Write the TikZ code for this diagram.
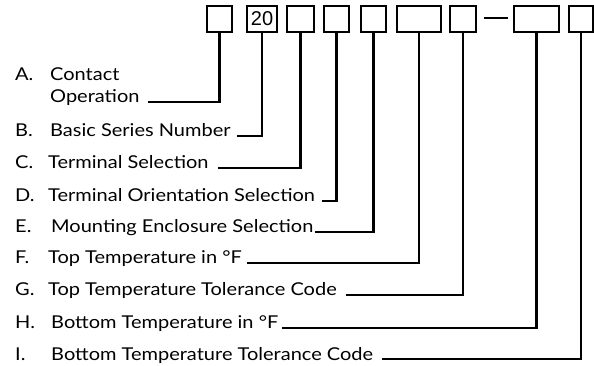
\documentclass[tikz,border=0pt]{standalone}
\usepackage{fontspec}
\setmainfont{Lato}[FakeStretch=1.13]
\newfontfamily\digitfont{Liberation Sans}
\begin{document}
\begin{tikzpicture}[x=1pt,y=-1pt,
  codebox/.style={draw=black,line width=1.1pt,inner sep=0pt,minimum height=26pt},
  conn/.style={line width=2.4pt},
  lbl/.style={anchor=base west,inner sep=0pt,font=\fontsize{17.7}{19}\selectfont},
]
\useasboundingbox (0,0) rectangle (594,365);
% code boxes
\node[codebox,minimum width=25pt] (b1) at (219.5,19) {};
\node[codebox,minimum width=30pt,font=\digitfont\fontsize{20}{21}\selectfont] (b2) at (262,19) {\raisebox{-0.5pt}{20}};
\node[codebox,minimum width=27pt] (b3) at (300.5,19) {};
\node[codebox,minimum width=25pt] (b4) at (336.5,19) {};
\node[codebox,minimum width=25pt] (b5) at (373.5,19) {};
\node[codebox,minimum width=44pt] (b6) at (419,19) {};
\node[codebox,minimum width=26pt] (b7) at (463,19) {};
\node[codebox,minimum width=45pt] (b8) at (536.5,19) {};
\node[codebox,minimum width=24pt] (b9) at (581,19) {};
\draw[line width=1.2pt] (b7.east) ++(7,-1) coordinate (d1) -- ++(24,0) coordinate (d2);
% labels
\node[lbl] (la) at (15,80) {A.};
\node[lbl] (ta) at (50,80) {Contact};
\node[lbl] (ta2) at (50,102) {Operation};
\node[lbl] (lb) at (15,136) {B.};
\node[lbl] (tb) at (50,136) {Basic Series Number};
\node[lbl] (lc) at (15,168) {C.};
\node[lbl] (tc) at (48,168) {Terminal Selection};
\node[lbl] (ld) at (15,201) {D.};
\node[lbl] (td) at (48,201) {Terminal Orientation Selection};
\node[lbl] (le) at (15,232) {E.};
\node[lbl] (te) at (51,232) {Mounting Enclosure Selection};
\node[lbl] (lf) at (15,263) {F.};
\node[lbl] (tf) at (48,263) {Top Temperature in °F};
\node[lbl] (lg) at (15,295) {G.};
\node[lbl] (tg) at (48,295) {Top Temperature Tolerance Code};
\node[lbl] (lh) at (15,328) {H.};
\node[lbl] (th) at (51,328) {Bottom Temperature in °F};
\node[lbl] (li) at (15,360) {I.};
\node[lbl] (ti) at (51,360) {Bottom Temperature Tolerance Code};
% connector ends
\coordinate (ea) at (148,102);
\coordinate (eb) at (237,136);
\coordinate (ec) at (218,168);
\coordinate (ed) at (322,201);
\coordinate (ee) at (315,232);
\coordinate (ef) at (247,263);
\coordinate (eg) at (346,295);
\coordinate (eh) at (282,328);
\coordinate (ei) at (382,359);
\draw[conn] (b1.south) |- (ea);
\draw[conn] (b2.south) |- (eb);
\draw[conn] (b3.south) |- (ec);
\draw[conn] (b4.south) |- (ed);
\draw[conn] (b5.south) |- (ee);
\draw[conn] (b6.south) |- (ef);
\draw[conn] (b7.south) |- (eg);
\draw[conn] (b8.south) |- (eh);
\draw[conn] (b9.south) |- (ei);
\end{tikzpicture}
\end{document}
